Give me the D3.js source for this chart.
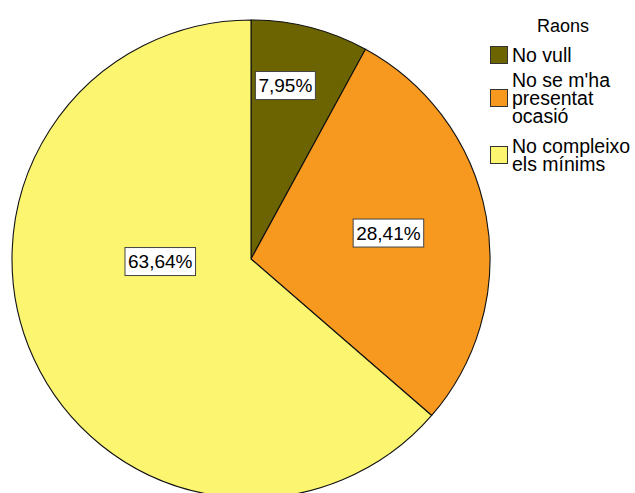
<!DOCTYPE html>
<html>
<head>
<meta charset="utf-8">
<script src="https://cdn.jsdelivr.net/npm/d3@7/dist/d3.min.js"></script>
<style>
  html, body { margin: 0; padding: 0; background: #fff; }
  svg { display: block; }
  text { font-family: "Liberation Sans", Arial, sans-serif; }
</style>
</head>
<body>
<svg id="chart" width="635" height="493"></svg>
<script>
// Reasons and their shares (percent)
const categories = ["No vull", "No se m'ha presentat ocasió", "No compleixo els mínims"];
const legendLines = [["No vull"], ["No se m'ha", "presentat", "ocasió"], ["No compleixo", "els mínims"]];
const percents = [7.95, 28.41, 63.64];
const colors = ["#6b6400", "#f7991f", "#fbf570"];
const legendTitle = "Raons";

// Label placement per slice: angle (degrees clockwise from top) and distance as a fraction of the radius
const labelAngle = [11.2, 79.3, 268.4];
const labelDist = [0.74, 0.585, 0.38];

const width = 635, height = 493;
const cx = 251, cy = 259, radius = 239;

const svg = d3.select("#chart");
const g = svg.append("g").attr("transform", `translate(${cx},${cy})`);

const pie = d3.pie().sort(null).value(d => d);
const arcs = pie(percents);
const arc = d3.arc().innerRadius(0).outerRadius(radius);

g.selectAll("path.slice")
  .data(arcs)
  .join("path")
  .attr("class", "slice")
  .attr("d", arc)
  .attr("fill", (d, i) => colors[i])
  .attr("stroke", "#111")
  .attr("stroke-width", 1.1)
  .attr("stroke-linejoin", "round");

// Percentage labels in white boxes
const fmt = v => v.toFixed(2).replace(".", ",") + "%";
const labels = g.selectAll("g.lab")
  .data(arcs)
  .join("g")
  .attr("class", "lab")
  .attr("transform", (d, i) => {
    const a = labelAngle[i] * Math.PI / 180;
    const r = labelDist[i] * radius;
    return `translate(${r * Math.sin(a)},${-r * Math.cos(a)})`;
  });

labels.each(function(d) {
  const sel = d3.select(this);
  const t = sel.append("text")
    .attr("text-anchor", "middle")
    .attr("dy", "0.36em")
    .attr("font-size", 19)
    .attr("fill", "#000")
    .text(fmt(d.data));
  const bb = t.node().getBBox();
  sel.insert("rect", "text")
    .attr("x", bb.x - 3)
    .attr("y", -14)
    .attr("width", bb.width + 6)
    .attr("height", 28)
    .attr("fill", "#fff")
    .attr("stroke", "#444")
    .attr("stroke-width", 1);
});

// Legend
const lg = svg.append("g");
lg.append("text")
  .attr("x", 563)
  .attr("y", 32)
  .attr("text-anchor", "middle")
  .attr("font-size", 18)
  .attr("fill", "#000")
  .text(legendTitle);

const itemTop = [48, 73, 139];   // cap top of first text line per item
const lineH = 18;
const capToBase = 14;

legendLines.forEach((lines, i) => {
  const base0 = itemTop[i] + capToBase;
  const midY = base0 - 7 + (lines.length - 1) * lineH / 2;
  lg.append("rect")
    .attr("x", 490.5)
    .attr("y", midY - 8.5)
    .attr("width", 17)
    .attr("height", 17)
    .attr("fill", colors[i])
    .attr("stroke", "#333")
    .attr("stroke-width", 1);
  const t = lg.append("text")
    .attr("x", 512)
    .attr("y", base0)
    .attr("font-size", 19.5)
    .attr("fill", "#000");
  lines.forEach((ln, j) => {
    t.append("tspan").attr("x", 512).attr("y", base0 + j * lineH).text(ln);
  });
});
</script>
</body>
</html>
